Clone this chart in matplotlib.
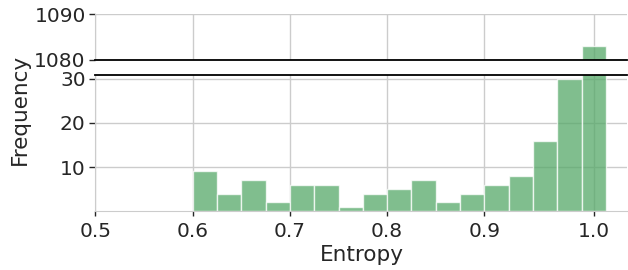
import matplotlib
matplotlib.use('Agg')
import matplotlib.pyplot as plt
import numpy as np

# histogram of entropy values (17 bins starting at 0.6)
bin_start = 0.6
bin_width = 0.025
counts = [9, 4, 7, 2, 6, 6, 1, 4, 5, 7, 2, 4, 6, 8, 16, 30, 1083]

xtick_pos = [0.5, 0.6, 0.7, 0.8, 0.9, 1.0125]
xtick_labels = ['0.5', '0.6', '0.7', '0.8', '0.9', '1.0']
low_yticks = [10, 20, 30]
high_yticks = [1080, 1090]

text_color = '#262626'
light = '#cccccc'
bar_color = '#55A868'

plt.rcParams.update({
    'font.family': 'DejaVu Sans',
    'text.color': text_color,
    'axes.labelcolor': text_color,
    'xtick.color': text_color,
    'ytick.color': text_color,
})

fig = plt.figure(figsize=(6.28, 2.70), dpi=100)
ax_top = fig.add_axes([0.152, 0.778, 0.847, 0.17])
ax_bot = fig.add_axes([0.152, 0.218, 0.847, 0.506])

lefts = bin_start + bin_width * np.arange(len(counts))

for ax in (ax_top, ax_bot):
    ax.set_axisbelow(True)
    ax.grid(True, color=light, linewidth=1)
    ax.bar(lefts, counts, width=bin_width, align='edge', color=bar_color,
           alpha=0.75, edgecolor='white', linewidth=1)
    ax.set_xlim(0.5, 1.047)
    ax.set_xticks(xtick_pos)
    for s in ['left', 'bottom', 'top', 'right']:
        ax.spines[s].set_color(light)
    ax.spines['right'].set_visible(False)
    ax.tick_params(axis='y', length=4.5, width=1, labelsize=14.5, pad=2.5)
    ax.tick_params(axis='x', length=3.5, width=1, labelsize=14.5, pad=4)

ax_top.set_ylim(1080, 1090)
ax_top.set_yticks(high_yticks)
ax_top.spines['top'].set_visible(False)
ax_top.spines['bottom'].set_color('black')
ax_top.spines['bottom'].set_linewidth(1.3)
ax_top.tick_params(axis='x', bottom=False, labelbottom=False)

ax_bot.set_ylim(0, 31)
ax_bot.set_yticks(low_yticks)
ax_bot.spines['top'].set_color('black')
ax_bot.spines['top'].set_linewidth(1.3)
ax_bot.set_xticklabels(xtick_labels)
ax_bot.set_xlabel('Entropy', fontsize=15.5, labelpad=3)

fig.text(0.032, 0.595, 'Frequency', rotation=90, fontsize=15.5,
         ha='center', va='center', color=text_color)

fig.savefig('out.png', dpi=100)
